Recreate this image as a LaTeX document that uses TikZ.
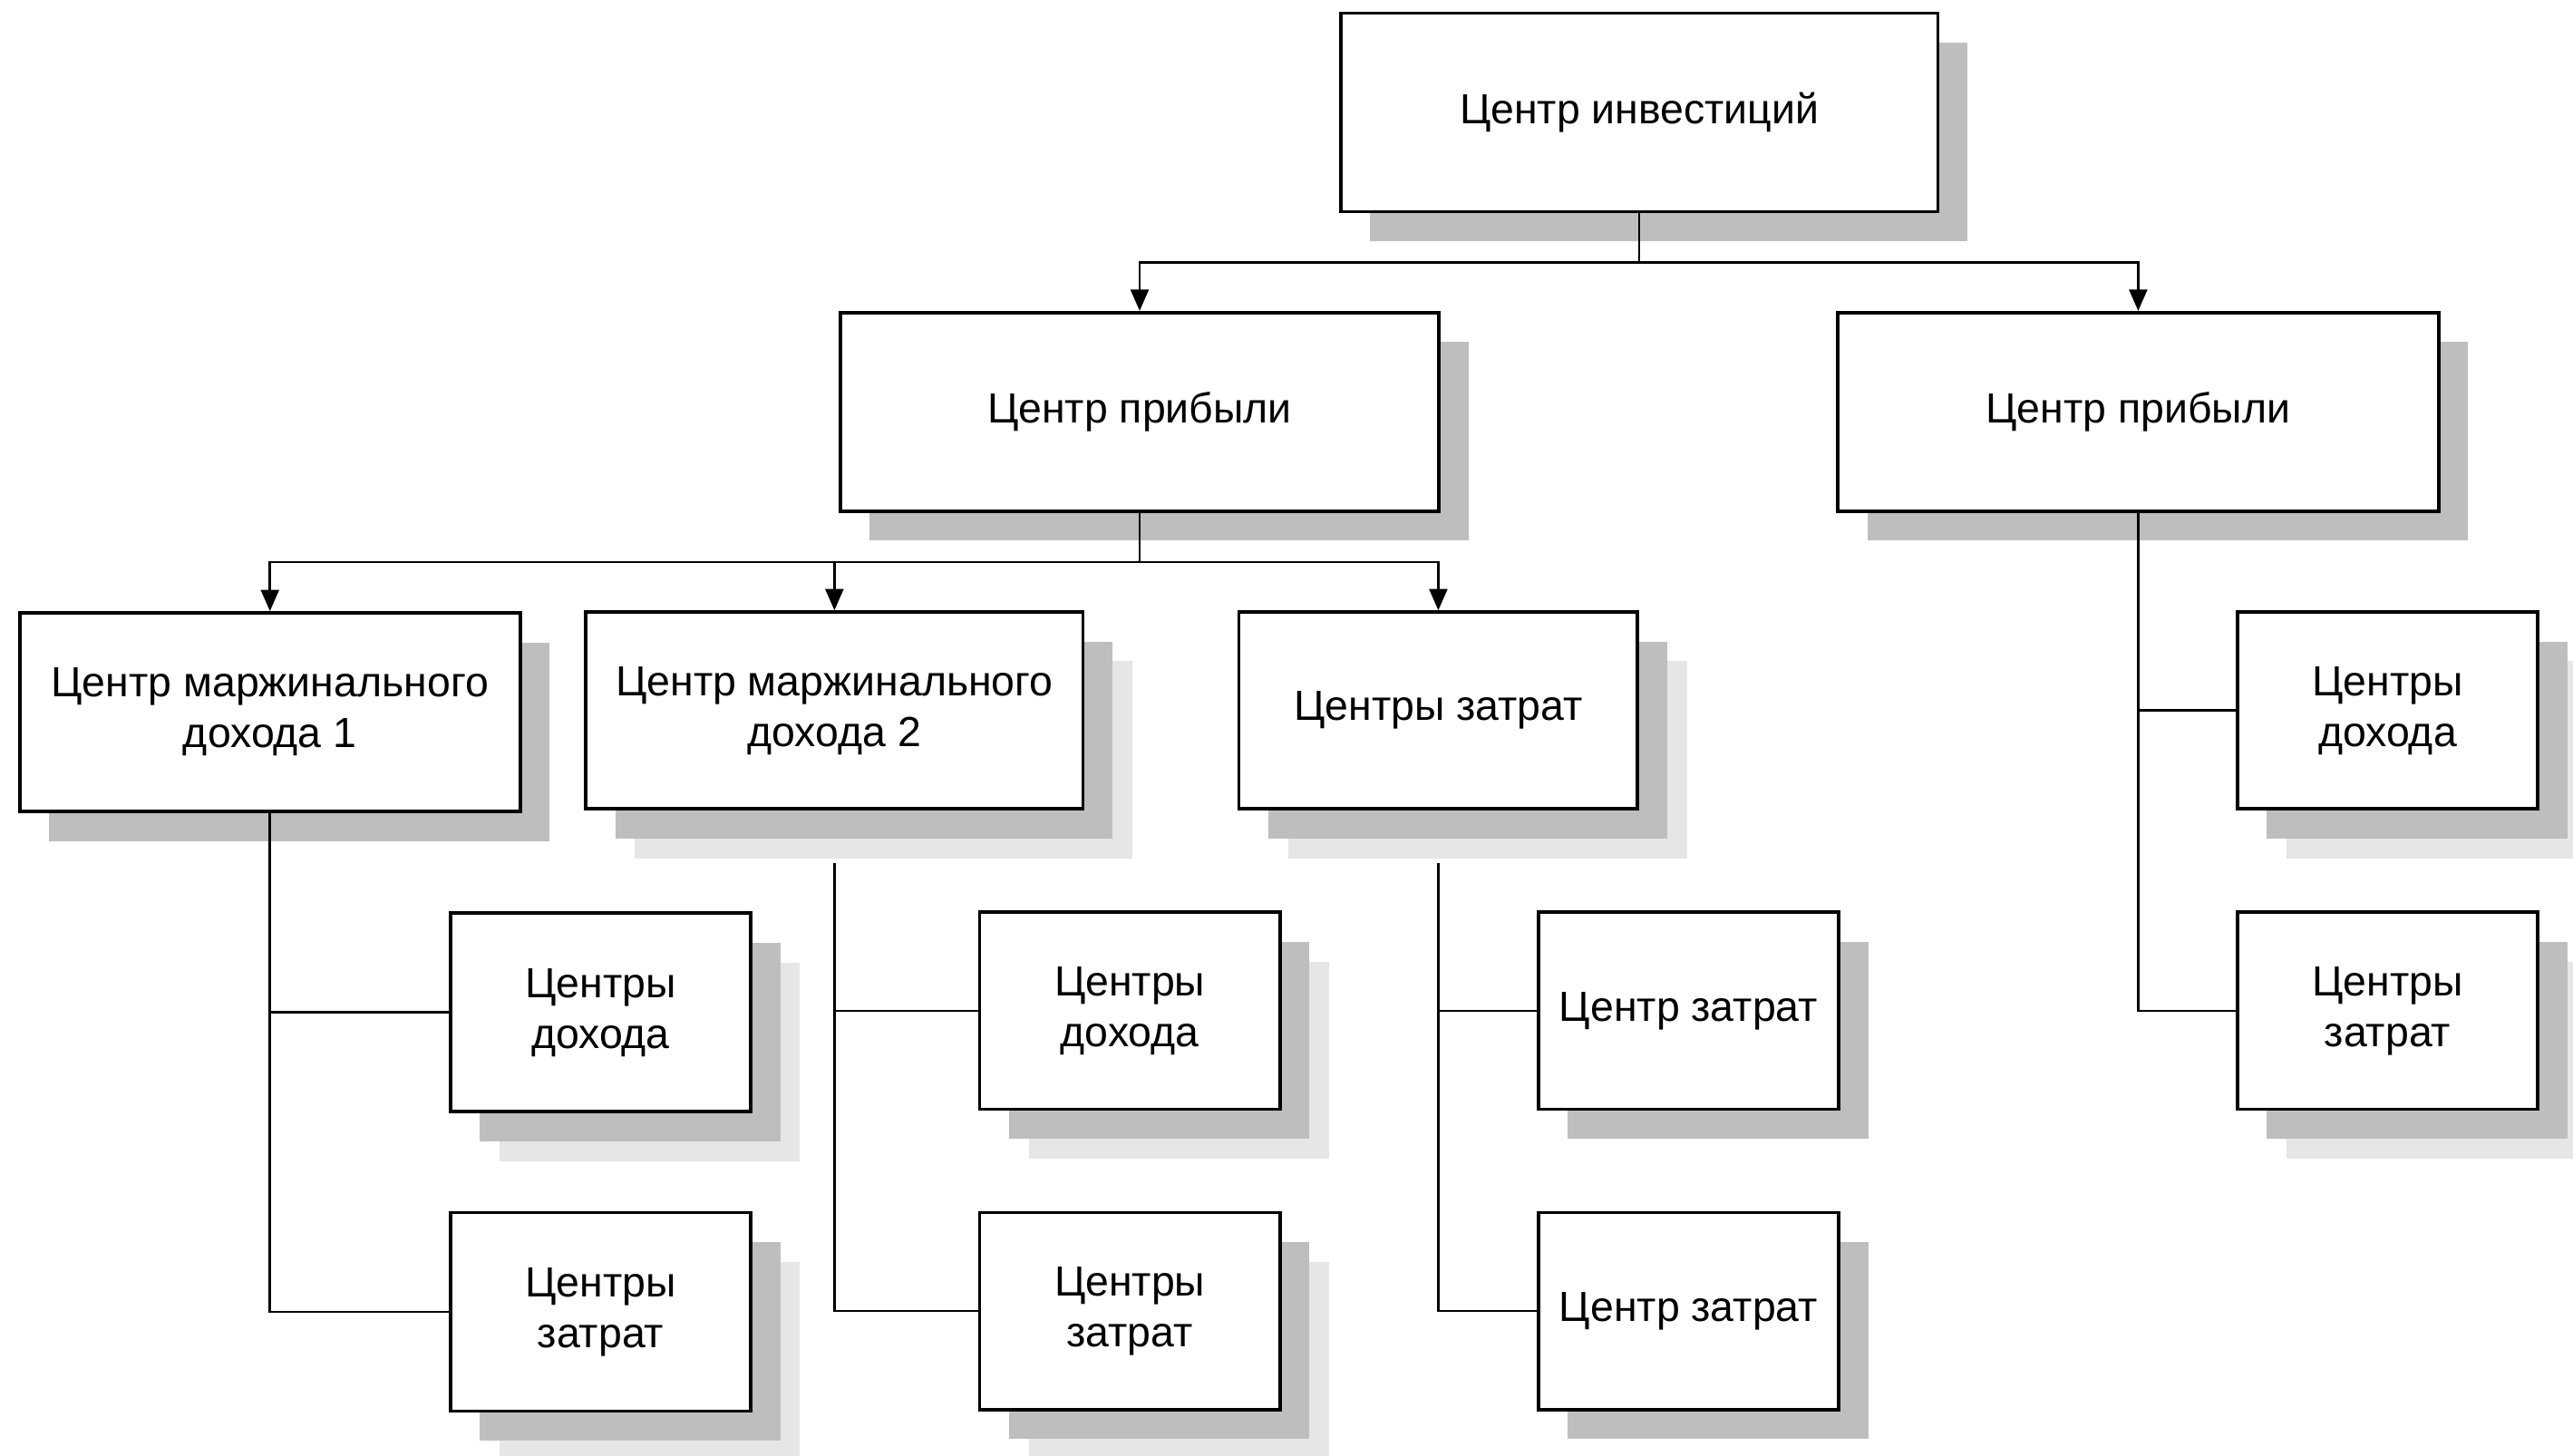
\documentclass[tikz,border=0pt]{standalone}
\usepackage{fontspec}
\setmainfont{Liberation Sans}
\usetikzlibrary{positioning,shadows,arrows.meta}
\definecolor{shadedark}{HTML}{BEBEBE}
\definecolor{shadelite}{HTML}{E6E6E6}
\tikzset{
  cbox/.style={draw,line width=0.6pt,fill=white,minimum width=1.83cm,minimum height=1.21cm,
    inner sep=1pt,align=center,font=\fontsize{7.3}{8.8}\selectfont,
    general shadow={fill=shadedark,shadow xshift=1.8mm,shadow yshift=-1.8mm}},
  twoshade/.style={general shadow={fill=shadelite,shadow xshift=3mm,shadow yshift=-3mm}},
  link/.style={line width=0.4pt},
  arr/.style={link,-{Triangle[length=1.3mm,width=1.1mm]}}
}
\begin{document}
\begin{tikzpicture}
\useasboundingbox (0,0) rectangle (15.68,-8.87);
\node[cbox,minimum width=3.64cm] (inv) at (9.99,-0.685) {Центр инвестиций};
\node[cbox,minimum width=3.65cm] (prof1) at (6.945,-2.51) {Центр прибыли};
\node[cbox,minimum width=3.66cm] (prof2) at (13.03,-2.51) {Центр прибыли};
\node[cbox,minimum width=3.05cm] (md1) at (1.645,-4.34) {Центр маржинального\\дохода 1};
\node[twoshade,cbox,minimum width=3.03cm,minimum height=1.2cm] (md2) at (5.085,-4.33) {Центр маржинального\\дохода 2};
\node[twoshade,cbox,minimum width=2.43cm,minimum height=1.2cm] (cost) at (8.765,-4.33) {Центры затрат};
\node[twoshade,cbox,minimum height=1.2cm] (prof2a) at (14.55,-4.33) {Центры\\дохода};
\node[twoshade,cbox,minimum height=1.2cm] (prof2b) at (14.55,-6.16) {Центры\\затрат};
\node[twoshade,cbox] (md1a) at (3.66,-6.17) {Центры\\дохода};
\node[twoshade,cbox] (md1b) at (3.66,-7.995) {Центры\\затрат};
\node[twoshade,cbox,minimum height=1.2cm] (md2a) at (6.885,-6.16) {Центры\\дохода};
\node[twoshade,cbox,minimum height=1.2cm] (md2b) at (6.885,-7.99) {Центры\\затрат};
\node[cbox,minimum height=1.2cm] (costa) at (10.29,-6.16) {Центр затрат};
\node[cbox,minimum height=1.2cm] (costb) at (10.29,-7.99) {Центр затрат};
% top level
\draw[arr] (inv.south) -- ++(0,-0.3) -| (prof1);
\draw[arr] (inv.south) -- ++(0,-0.3) -| (prof2);
% profit centre, left
\draw[arr] (prof1.south) -- ++(0,-0.3) -| (md1);
\draw[arr] (prof1.south) -- ++(0,-0.3) -| (md2);
\draw[arr] (prof1.south) -- ++(0,-0.3) -| (cost);
% profit centre, right
\draw[link] (prof2.south) |- (prof2a.west);
\draw[link] (prof2.south) |- (prof2b.west);
% lower branches
\draw[link] (md1.south) |- (md1a.west);
\draw[link] (md1.south) |- (md1b.west);
\draw[link,shorten <=3.2mm] (md2.south) |- (md2a.west);
\draw[link,shorten <=3.2mm] (md2.south) |- (md2b.west);
\draw[link,shorten <=3.2mm] (cost.south) |- (costa.west);
\draw[link,shorten <=3.2mm] (cost.south) |- (costb.west);
\end{tikzpicture}
\end{document}
